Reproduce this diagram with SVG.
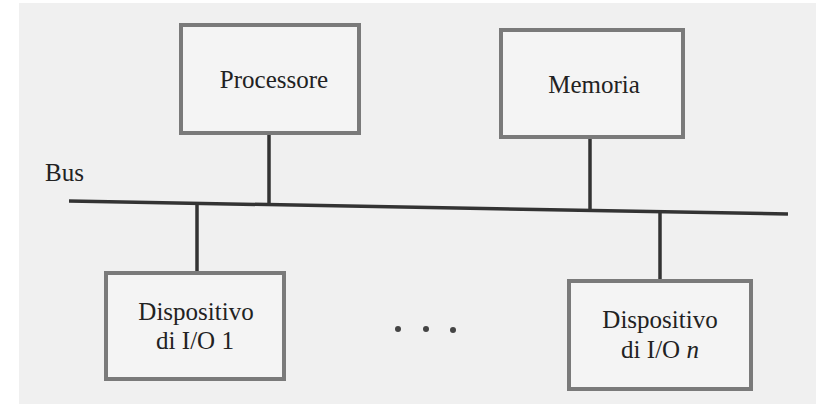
<svg xmlns="http://www.w3.org/2000/svg" width="816" height="404" viewBox="0 0 816 404">
<style>
.box{fill:#f4f4f4;stroke:#7a7a7a;stroke-width:4}
.lbl{font-family:"Liberation Serif","Times New Roman",serif;font-size:25px;fill:#222;text-anchor:middle}
.wire{stroke:#333;stroke-width:3.5;fill:none}
</style>
<rect width="816" height="404" fill="#ffffff"/>
<rect x="19" y="3" width="797" height="401" fill="#f0f0f0"/>
<g id="connectors">
<line class="wire" x1="69" y1="201" x2="788" y2="214"/>
<line class="wire" x1="269" y1="134" x2="269" y2="204"/>
<line class="wire" x1="590" y1="138" x2="590" y2="209"/>
<line class="wire" x1="197" y1="202" x2="197" y2="272"/>
<line class="wire" x1="660" y1="211" x2="660" y2="280"/>
</g>
<g id="bus"><text class="lbl" x="45" y="181" style="text-anchor:start">Bus</text></g>
<g id="processore">
<rect class="box" x="181" y="25" width="178" height="108"/>
<text class="lbl" x="274" y="88">Processore</text>
</g>
<g id="memoria">
<rect class="box" x="501" y="30" width="182" height="107"/>
<text class="lbl" x="594" y="93">Memoria</text>
</g>
<g id="io1">
<rect class="box" x="106" y="273" width="178" height="106"/>
<text class="lbl" x="196" y="320">Dispositivo</text>
<text class="lbl" x="195" y="349">di I/O 1</text>
</g>
<g id="ion">
<rect class="box" x="569" y="281" width="182" height="108"/>
<text class="lbl" x="660" y="328">Dispositivo</text>
<text class="lbl" x="660" y="358">di I/O <tspan font-style="italic">n</tspan></text>
</g>
<g id="dots" fill="#444">
<circle cx="398" cy="329" r="3"/>
<circle cx="426" cy="329" r="3"/>
<circle cx="453" cy="330" r="3"/>
</g>
</svg>
